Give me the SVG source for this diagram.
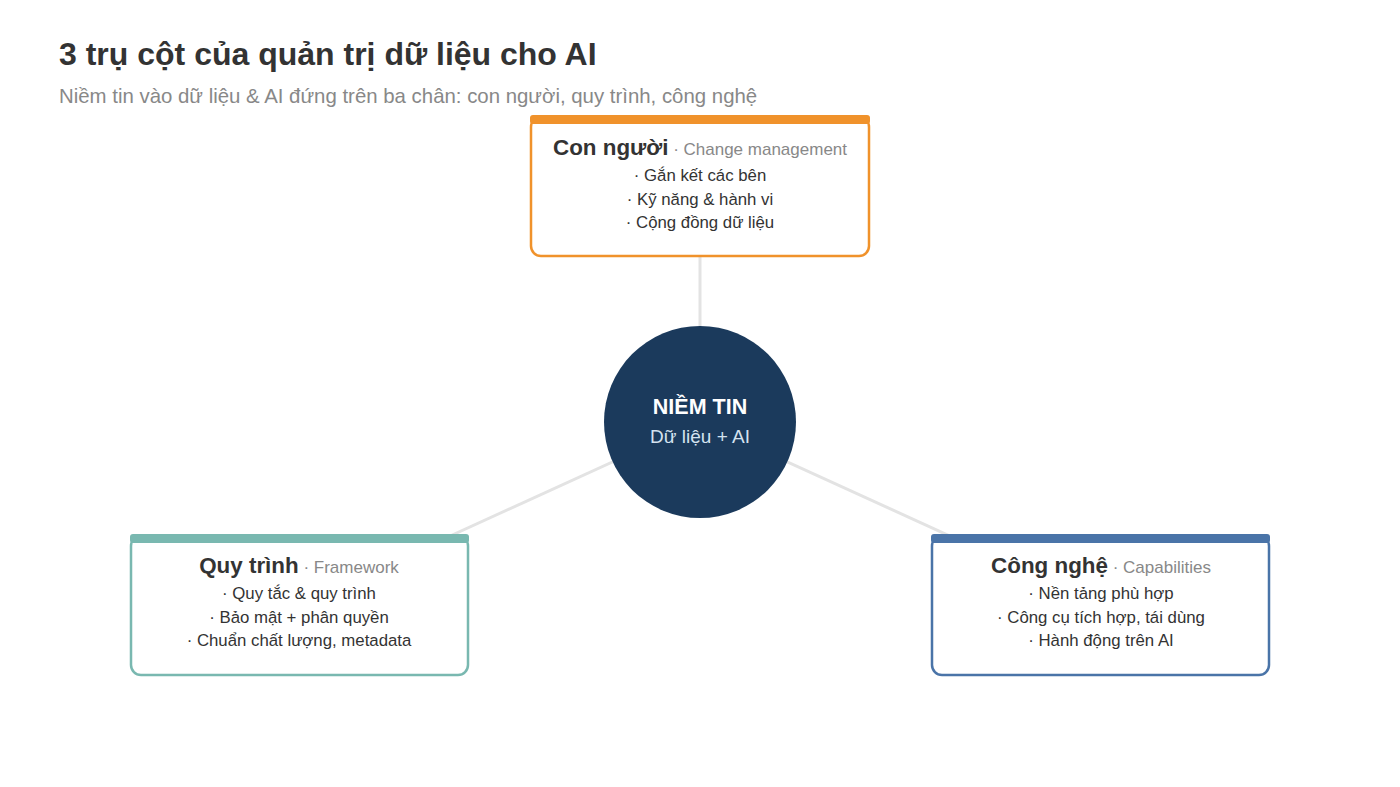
<svg xmlns="http://www.w3.org/2000/svg" width="1400" height="787" viewBox="0 0 1400 787">
<style>
text{font-family:"Liberation Sans",Arial,sans-serif}
.title{font-size:32px;font-weight:bold;fill:#333}
.sub{font-size:20.4px;fill:#888}
.h{font-size:22.4px;font-weight:bold;fill:#333}
.tag{font-size:17px;fill:#888;font-weight:normal}
.b{font-size:16.8px;fill:#333;text-anchor:middle}
.box{fill:#fff;stroke-width:2.5}
.conn{stroke:#e3e3e3;stroke-width:3;fill:none}
</style>
<rect width="1400" height="787" fill="#fff"/>
<text class="title" x="59" y="65">3 trụ cột của quản trị dữ liệu cho AI</text>
<text class="sub" x="59" y="103">Niềm tin vào dữ liệu &amp; AI đứng trên ba chân: con người, quy trình, công nghệ</text>
<g id="connectors">
<line class="conn" x1="700" y1="422" x2="700" y2="186"/>
<line class="conn" x1="700" y1="422" x2="299" y2="605"/>
<line class="conn" x1="700" y1="422" x2="1101" y2="605"/>
</g>
<g id="center">
<circle cx="700" cy="422" r="96" fill="#1b3a5c"/>
<text x="700" y="414" text-anchor="middle" font-size="21.5" font-weight="bold" fill="#fff">NIỀM TIN</text>
<text x="700" y="443" text-anchor="middle" font-size="19" fill="#d4e2f0">Dữ liệu + AI</text>
</g>
<g id="people">
<rect class="box" x="531" y="117" width="338" height="139" rx="10" stroke="#f0922b"/>
<rect x="530" y="115" width="340" height="9" rx="3" fill="#f0922b"/>
<text x="700" y="155" text-anchor="middle"><tspan class="h">Con người</tspan><tspan class="tag"> · Change management</tspan></text>
<text class="b" x="700" y="181">· Gắn kết các bên</text>
<text class="b" x="700" y="205">· Kỹ năng &amp; hành vi</text>
<text class="b" x="700" y="228">· Cộng đồng dữ liệu</text>
</g>
<g id="process">
<rect class="box" x="131" y="536" width="337" height="139" rx="10" stroke="#79b8b0"/>
<rect x="130" y="534" width="339" height="9" rx="3" fill="#79b8b0"/>
<text x="299" y="573" text-anchor="middle"><tspan class="h">Quy trình</tspan><tspan class="tag"> · Framework</tspan></text>
<text class="b" x="299" y="599">· Quy tắc &amp; quy trình</text>
<text class="b" x="299" y="623">· Bảo mật + phân quyền</text>
<text class="b" x="299" y="646">· Chuẩn chất lượng, metadata</text>
</g>
<g id="technology">
<rect class="box" x="932" y="536" width="337" height="139" rx="10" stroke="#4a74a8"/>
<rect x="931" y="534" width="339" height="9" rx="3" fill="#4a74a8"/>
<text x="1101" y="573" text-anchor="middle"><tspan class="h">Công nghệ</tspan><tspan class="tag"> · Capabilities</tspan></text>
<text class="b" x="1101" y="599">· Nền tảng phù hợp</text>
<text class="b" x="1101" y="623">· Công cụ tích hợp, tái dùng</text>
<text class="b" x="1101" y="646">· Hành động trên AI</text>
</g>
</svg>
